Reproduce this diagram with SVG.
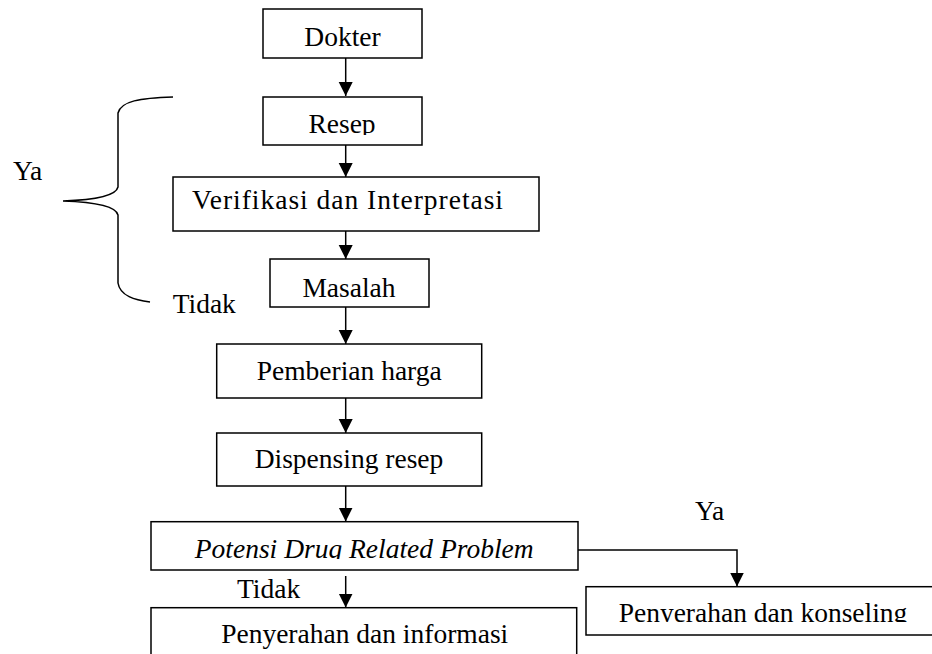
<svg xmlns="http://www.w3.org/2000/svg" width="932" height="654" viewBox="0 0 932 654">
<style>
.box{fill:#fff;stroke:#000;stroke-width:1.5}
.t{font-family:"Liberation Serif","Times New Roman",serif;font-size:27.5px;fill:#000}
.c{text-anchor:middle}
.ln{fill:none;stroke:#000;stroke-width:1.5}
</style>
<defs>
<marker id="ah" markerUnits="userSpaceOnUse" markerWidth="16" markerHeight="16" refX="14" refY="7" orient="auto">
<path d="M0,0 L14,7 L0,14 Z" fill="#000"/>
</marker>
<clipPath id="cResep"><rect x="263" y="97" width="159" height="38"/></clipPath>
<clipPath id="cPot"><rect x="151" y="522" width="427" height="37"/></clipPath>
<clipPath id="cKons"><rect x="586" y="587" width="346" height="35"/></clipPath>
</defs>
<rect width="932" height="654" fill="#fff"/>
<g id="connectors">
<path class="ln" d="M345.7,58 V96" marker-end="url(#ah)"/>
<path class="ln" d="M345.7,145 V177" marker-end="url(#ah)"/>
<path class="ln" d="M345.7,231 V259" marker-end="url(#ah)"/>
<path class="ln" d="M345.7,307 V344" marker-end="url(#ah)"/>
<path class="ln" d="M345.7,398 V433" marker-end="url(#ah)"/>
<path class="ln" d="M345.7,486 V521.5" marker-end="url(#ah)"/>
<path class="ln" d="M345.7,576 V607.5" marker-end="url(#ah)"/>
<path class="ln" d="M578,550 H737 V586.5" marker-end="url(#ah)"/>
</g>
<g id="brace">
<path class="ln" d="M173,97 C140,98 121,101 118,113 L118,187 C116,196 92,200 63,201 C92,202 116,206 118,215 L118,283 C120,296 135,300 150,302"/>
<text class="t" x="13" y="180">Ya</text>
<text class="t" x="172.7" y="313">Tidak</text>
</g>
<g id="dokter">
<rect class="box" x="263" y="9" width="159" height="49"/>
<text class="t c" x="342.5" y="46">Dokter</text>
</g>
<g id="resep">
<rect class="box" x="263" y="97" width="159" height="48"/>
<text class="t c" x="342" y="132.5" clip-path="url(#cResep)">Resep</text>
</g>
<g id="verifikasi">
<rect class="box" x="173" y="177" width="366" height="54"/>
<text class="t" x="192" y="208.5" textLength="311" lengthAdjust="spacing">Verifikasi dan Interpretasi</text>
</g>
<g id="masalah">
<rect class="box" x="270" y="259" width="159" height="48"/>
<text class="t c" x="349" y="297">Masalah</text>
</g>
<g id="pemberian">
<rect class="box" x="216.7" y="344" width="265" height="54"/>
<text class="t c" x="349.2" y="380">Pemberian harga</text>
</g>
<g id="dispensing">
<rect class="box" x="216.7" y="433" width="265" height="53"/>
<text class="t c" x="349" y="468">Dispensing resep</text>
</g>
<g id="potensi">
<rect class="box" x="151" y="521.7" width="427" height="48.3"/>
<text class="t c" x="364.2" y="558" font-style="italic" clip-path="url(#cPot)">Potensi Drug Related Problem</text>
<text class="t" x="237" y="598">Tidak</text>
<text class="t" x="695" y="520">Ya</text>
</g>
<g id="informasi">
<rect class="box" x="151" y="607.7" width="425.7" height="60"/>
<text class="t c" x="364.7" y="643">Penyerahan dan informasi</text>
</g>
<g id="konseling">
<rect class="box" x="586" y="586.7" width="360" height="48.3"/>
<text class="t c" x="763" y="621.5" clip-path="url(#cKons)">Penyerahan dan konseling</text>
</g>
</svg>
